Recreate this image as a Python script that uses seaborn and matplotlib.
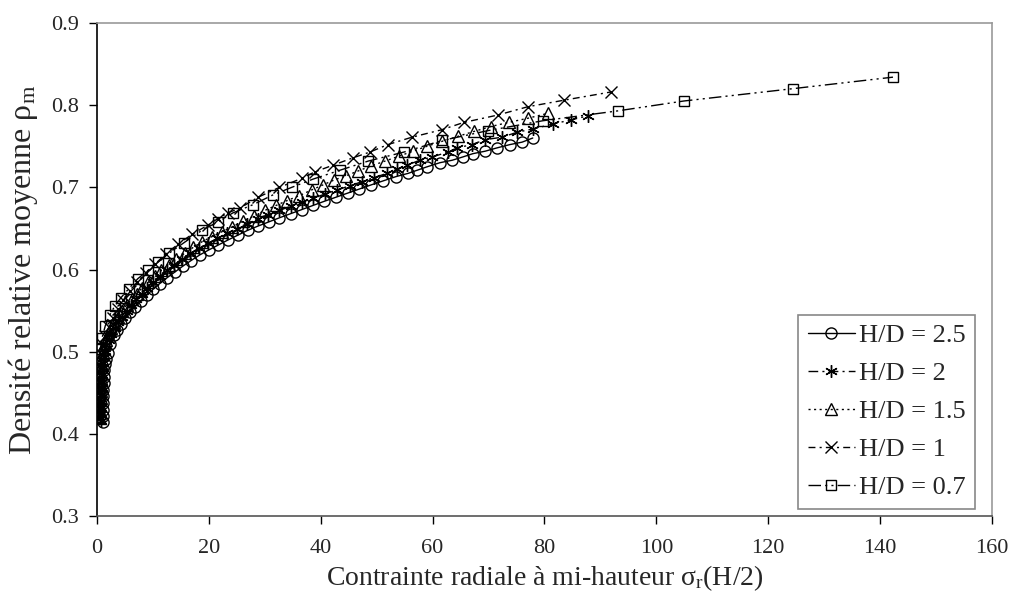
import matplotlib
matplotlib.use('Agg')
import matplotlib.pyplot as plt
import seaborn as sns

# H/D = 2.5 (circles)
x_25 = [1.0, 1.0, 1.0, 1.1, 1.1, 1.1, 1.2, 1.2, 1.3, 1.4, 1.6, 1.9, 2.4, 3.0, 3.6,
        4.3, 5.1, 5.9, 6.8, 7.8, 8.9, 10.0, 11.2, 12.5, 13.9, 15.3, 16.8, 18.4, 20.0,
        21.7, 23.4, 25.2, 27.0, 28.8, 30.7, 32.6, 34.6, 36.6, 38.6, 40.6, 42.7, 44.8,
        46.9, 49.0, 51.2, 53.4, 55.6, 57.3, 59.0, 61.3, 63.5, 65.4, 67.2, 69.4, 71.5,
        73.8, 76.0, 77.9]
y_25 = [0.415, 0.422, 0.430, 0.438, 0.446, 0.454, 0.462, 0.470, 0.478, 0.485, 0.492,
        0.499, 0.510, 0.520, 0.527, 0.534, 0.541, 0.548, 0.555, 0.562, 0.569,
        0.576, 0.583, 0.590, 0.597, 0.604, 0.611, 0.618, 0.624, 0.630, 0.636, 0.642,
        0.648, 0.653, 0.658, 0.663, 0.668, 0.673, 0.678, 0.683, 0.688, 0.693, 0.698,
        0.703, 0.708, 0.713, 0.717, 0.721, 0.725, 0.730, 0.733, 0.737, 0.741, 0.744,
        0.748, 0.752, 0.755, 0.760]

# H/D = 2 (stars)
x_2 = [0.7, 0.7, 0.8, 0.8, 0.8, 0.9, 0.9, 0.9, 1.0, 1.1, 1.2, 1.4, 1.7, 2.1, 2.6, 3.2,
       3.8, 4.5, 5.3, 6.1, 7.0, 8.0, 9.0, 10.1, 11.3, 12.5, 13.8, 15.2, 16.7, 18.2,
       19.8, 21.5, 23.2, 25.0, 26.8, 28.7, 30.6, 32.6, 34.6, 36.6, 38.7, 40.8, 43.0,
       45.2, 47.4, 49.6, 51.8, 53.6, 55.4, 57.7, 59.9, 62.8, 64.4, 67.0, 69.4, 72.4,
       75.1, 77.9, 81.5, 84.7, 87.8]
y_2 = [0.416, 0.424, 0.432, 0.440, 0.448, 0.456, 0.464, 0.472, 0.480, 0.487, 0.494,
       0.501, 0.508, 0.515, 0.522, 0.529, 0.536, 0.543, 0.550, 0.557, 0.564, 0.571,
       0.578, 0.585, 0.592, 0.599, 0.606, 0.613, 0.620, 0.626, 0.632, 0.638, 0.644,
       0.650, 0.656, 0.662, 0.667, 0.672, 0.677, 0.682, 0.687, 0.692, 0.697, 0.702,
       0.707, 0.712, 0.717, 0.722, 0.727, 0.733, 0.737, 0.743, 0.748, 0.752, 0.758,
       0.761, 0.767, 0.771, 0.777, 0.782, 0.787]

# H/D = 1.5 (triangles)
x_15 = [0.6, 0.6, 0.6, 0.7, 0.7, 0.7, 0.8, 0.8, 0.9, 0.9, 1.0, 1.3, 1.6, 2.0, 2.5, 3.1,
        3.8, 4.5, 5.3, 6.2, 7.1, 8.1, 9.2, 10.3, 11.5, 12.8, 14.2, 15.7, 17.2, 18.8,
        20.5, 22.3, 24.2, 26.1, 28.0, 30.0, 32.0, 34.0, 36.2, 38.4, 40.4, 42.4, 44.5,
        46.7, 49.0, 51.5, 54.0, 56.5, 59.0, 61.7, 64.5, 67.4, 70.4, 73.6, 77.0, 80.6]
y_15 = [0.420, 0.428, 0.436, 0.444, 0.452, 0.460, 0.468, 0.476, 0.484, 0.492, 0.500,
        0.508, 0.515, 0.522, 0.529, 0.536, 0.543, 0.550, 0.557, 0.564, 0.571, 0.578,
        0.585, 0.592, 0.599, 0.606, 0.613, 0.620, 0.627, 0.634, 0.640, 0.646, 0.652,
        0.659, 0.665, 0.672, 0.678, 0.684, 0.690, 0.697, 0.703, 0.709, 0.714, 0.720,
        0.726, 0.732, 0.738, 0.744, 0.750, 0.756, 0.762, 0.768, 0.774, 0.779, 0.784,
        0.790]

# H/D = 1 (crosses)
x_1 = [0.4, 0.4, 0.5, 0.5, 0.5, 0.6, 0.7, 0.8, 1.1, 1.5, 2.1, 2.8, 3.7, 4.7, 5.9, 7.2,
       8.7, 10.4, 12.3, 14.5, 17.0, 19.8, 21.6, 23.4, 25.6, 28.8, 32.6, 36.6, 39.0,
       42.2, 45.8, 48.8, 52.0, 56.3, 61.6, 65.6, 71.7, 77.0, 83.5, 91.9]
y_1 = [0.420, 0.431, 0.442, 0.453, 0.464, 0.475, 0.486, 0.497, 0.508, 0.519, 0.530,
       0.541, 0.552, 0.563, 0.574, 0.585, 0.596, 0.607, 0.619, 0.631, 0.643, 0.654,
       0.662, 0.669, 0.675, 0.688, 0.700, 0.711, 0.719, 0.727, 0.736, 0.743, 0.752,
       0.761, 0.770, 0.779, 0.788, 0.798, 0.806, 0.816]

# H/D = 0.7 (squares)
x_07 = [0.2, 0.2, 0.3, 0.3, 0.3, 0.4, 0.5, 0.6, 0.9, 1.5, 2.3, 3.2, 4.3, 5.7, 7.3, 9.1,
        10.9, 12.9, 15.6, 18.8, 21.6, 24.3, 27.9, 31.5, 34.8, 38.6, 43.5, 48.5, 54.9,
        61.7, 69.9, 79.7, 93.1, 104.9, 124.4, 142.3]
y_07 = [0.420, 0.432, 0.444, 0.456, 0.468, 0.480, 0.492, 0.504, 0.517, 0.532, 0.545,
        0.556, 0.566, 0.577, 0.589, 0.599, 0.609, 0.620, 0.633, 0.648, 0.658, 0.669,
        0.679, 0.691, 0.700, 0.710, 0.721, 0.732, 0.743, 0.757, 0.769, 0.781, 0.793,
        0.805, 0.820, 0.834]

labels = ['H/D = 2.5', 'H/D = 2', 'H/D = 1.5', 'H/D = 1', 'H/D = 0.7']

sns.set_theme(style='ticks')
plt.rcParams['font.family'] = ['Liberation Serif', 'DejaVu Serif']
plt.rcParams['mathtext.fontset'] = 'custom'
plt.rcParams['mathtext.rm'] = 'Liberation Serif'
plt.rcParams['mathtext.it'] = 'Liberation Serif:italic'

fig = plt.figure(figsize=(10.11, 6.03), dpi=100)
ax = fig.add_axes([0.0959, 0.1435, 0.8853, 0.8186])

series = [
    (x_25, y_25, 'o', '-', 8),
    (x_2, y_2, (6, 2, 0), (0, (7, 3, 1.5, 3)), 9),
    (x_15, y_15, '^', (0, (1.5, 2.5)), 8),
    (x_1, y_1, 'x', (0, (5, 3, 1.5, 3)), 8),
    (x_07, y_07, 's', (0, (9, 3, 1.5, 3, 1.5, 3)), 7.5),
]

for (xs, ys, mk, ls, ms), lab in zip(series, labels):
    sns.lineplot(x=xs, y=ys, ax=ax, sort=False, estimator=None,
                 color='black', linewidth=1.0, linestyle=ls,
                 marker=mk, markersize=ms, markerfacecolor='none',
                 markeredgecolor='black', markeredgewidth=1.0, label=lab)

ax.set_xlim(0, 160)
ax.set_ylim(0.3, 0.9)
ax.set_xticks(range(0, 161, 20))
ax.set_yticks([0.3, 0.4, 0.5, 0.6, 0.7, 0.8, 0.9])
ax.set_yticklabels(['0.3', '0.4', '0.5', '0.6', '0.7', '0.8', '0.9'])
ax.tick_params(axis='both', labelsize=16, length=6, width=1, color='black',
               direction='out')
ax.tick_params(axis='x', pad=10)
ax.tick_params(axis='y', pad=7)

ax.spines['left'].set_color('black')
ax.spines['bottom'].set_color('#555555')
ax.spines['top'].set_color('#999999')
ax.spines['right'].set_color('#999999')
for s in ax.spines.values():
    s.set_linewidth(1.2)

ax.set_xlabel('Contrainte radiale à mi-hauteur σ$_\\mathrm{r}$(H/2)', fontsize=20, labelpad=4)
ax.set_ylabel('Densité relative moyenne ρ$_\\mathrm{m}$', fontsize=23, labelpad=8)

leg = ax.legend(loc='lower right', bbox_to_anchor=(0.981, 0.016), fontsize=19,
                frameon=True, fancybox=False, framealpha=1, edgecolor='#888888',
                handlelength=1.8, handletextpad=0.15, labelspacing=0.55,
                borderpad=0.35, borderaxespad=0, numpoints=1)
leg.get_frame().set_linewidth(1.2)

fig.savefig('out.png', dpi=100)
